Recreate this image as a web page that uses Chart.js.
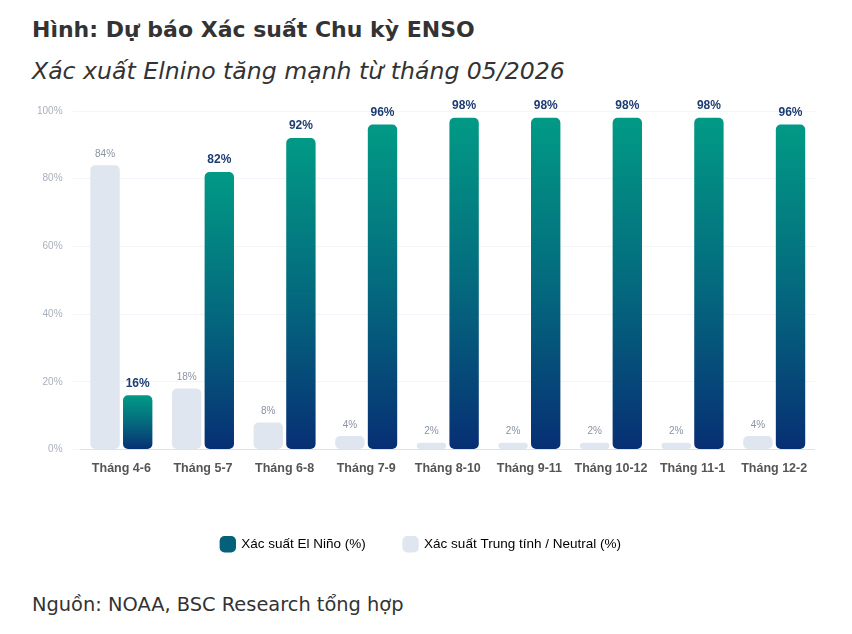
<!DOCTYPE html>
<html>
<head>
<meta charset="utf-8">
<script src="https://cdn.jsdelivr.net/npm/chart.js@4"></script>
<style>
  body { margin: 0; background: #fff; width: 852px; height: 634px; overflow: hidden; }
  .tieu-de { position: absolute; left: 32px; top: 17px; font: bold 22px 'DejaVu Sans', sans-serif; color: #333; }
  .phu-de { position: absolute; left: 32px; top: 57px; font: italic 23.6px 'DejaVu Sans', sans-serif; color: #333; }
  .nguon { position: absolute; left: 32px; top: 593px; font: 19.4px 'DejaVu Sans', sans-serif; color: #333; }
  .khung { position: absolute; left: 27px; top: 95px; width: 788px; height: 470px; }
</style>
</head>
<body>
<div class="tieu-de">Hình: Dự báo Xác suất Chu kỳ ENSO</div>
<div class="phu-de">Xác xuất Elnino tăng mạnh từ tháng 05/2026</div>
<div class="khung"><canvas id="ensoChart"></canvas></div>
<div class="nguon">Nguồn: NOAA, BSC Research tổng hợp</div>
<script>
// Du lieu doc tu hinh
const kyThang = ['Tháng 4-6', 'Tháng 5-7', 'Tháng 6-8', 'Tháng 7-9', 'Tháng 8-10', 'Tháng 9-11', 'Tháng 10-12', 'Tháng 11-1', 'Tháng 12-2']
const xacSuatElNino = [16, 82, 92, 96, 98, 98, 98, 98, 96]
const xacSuatTrungTinh = [84, 18, 8, 4, 2, 2, 2, 2, 4]
const mocTruc = [0, 20, 40, 60, 80, 100]

const fontChu = '"Liberation Sans", Arial, sans-serif'

// Gradient cho tung cot El Nino (xanh ngoc tren, xanh dam duoi)
function mauElNino(context) {
  const chart = context.chart
  const yScale = chart.scales.y
  if (!yScale || !chart.chartArea || context.type !== 'data') return '#0a6b7a'
  const value = context.parsed ? context.parsed.y : 0
  const top = yScale.getPixelForValue(value)
  const bottom = yScale.getPixelForValue(0)
  const g = chart.ctx.createLinearGradient(0, top, 0, bottom)
  g.addColorStop(0, '#019a85')
  g.addColorStop(0.5, '#046a7e')
  g.addColorStop(1, '#072f74')
  return g
}

// Ve nhan phan tram tren dau cot
const nhanCot = {
  id: 'nhanCot',
  afterDatasetsDraw(chart) {
    const ctx = chart.ctx
    ctx.save()
    ctx.textAlign = 'center'
    ctx.textBaseline = 'bottom'
    chart.data.datasets.forEach((ds, i) => {
      const meta = chart.getDatasetMeta(i)
      meta.data.forEach((bar, j) => {
        if (ds.nhan === 'elnino') {
          ctx.font = 'bold 12px ' + fontChu
          ctx.fillStyle = '#1d3c72'
        } else {
          ctx.font = '10px ' + fontChu
          ctx.fillStyle = '#8b93a3'
        }
        ctx.fillText(ds.data[j] + '%', bar.x, bar.y - 6)
      })
    })
    ctx.restore()
  }
}

new Chart(document.getElementById('ensoChart'), {
  type: 'bar',
  data: {
    labels: kyThang,
    datasets: [
      {
        label: 'Xác suất Trung tính / Neutral (%)',
        nhan: 'trungtinh',
        data: xacSuatTrungTinh,
        backgroundColor: '#dfe6ef',
        borderRadius: 5,
        borderSkipped: false,
        categoryPercentage: 0.8,
        barPercentage: 0.9
      },
      {
        label: 'Xác suất El Niño (%)',
        nhan: 'elnino',
        data: xacSuatElNino,
        backgroundColor: mauElNino,
        borderRadius: 5,
        borderSkipped: false,
        categoryPercentage: 0.8,
        barPercentage: 0.9
      }
    ]
  },
  options: {
    responsive: true,
    maintainAspectRatio: false,
    animation: false,
    layout: { padding: { top: 8, right: 0, bottom: 4 } },
    plugins: {
      legend: {
        position: 'bottom',
        reverse: true,
        labels: {
          usePointStyle: true,
          pointStyle: 'rectRounded',
          boxWidth: 14,
          boxHeight: 14,
          padding: 38,
          color: '#555',
          font: { family: fontChu, size: 13.5 },
          generateLabels(chart) {
            return chart.data.datasets.map((ds, i) => ({
              text: ds.label,
              fillStyle: ds.nhan === 'elnino' ? '#05607a' : '#dfe6ef',
              strokeStyle: 'transparent',
              lineWidth: 0,
              pointStyle: 'rectRounded',
              datasetIndex: i
            }))
          }
        }
      },
      tooltip: { enabled: false }
    },
    scales: {
      x: {
        grid: { display: false },
        border: { color: '#dde2ea' },
        afterFit(axis) {
          axis.height += 19
        },
        ticks: {
          color: '#555',
          padding: 4,
          font: { family: fontChu, size: 12.5, weight: 'bold' }
        }
      },
      y: {
        min: 0,
        max: 100,
        afterBuildTicks(axis) {
          axis.ticks = mocTruc.map(v => ({ value: v }))
        },
        grid: { color: '#f3f5f8' },
        border: { display: false },
        ticks: {
          color: '#a8afbd',
          padding: 10,
          font: { family: fontChu, size: 10 },
          callback: v => v + '%'
        }
      }
    }
  },
  plugins: [nhanCot]
})
</script>
</body>
</html>
